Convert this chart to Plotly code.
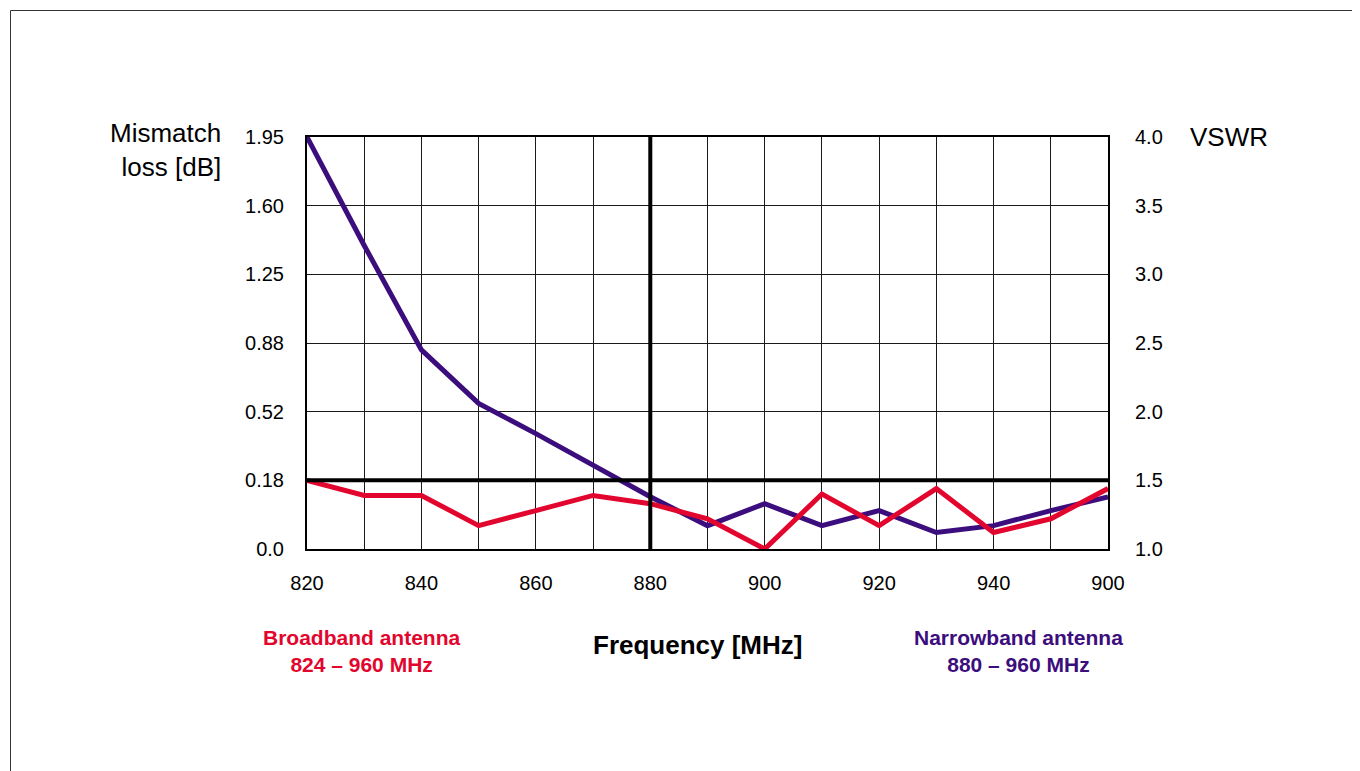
import plotly.graph_objects as go

# ---- data ----
frequency_mhz = [820, 830, 840, 850, 860, 870, 880, 890, 900, 910, 920, 930, 940, 950, 960]
narrowband_vswr = [4.0, 3.21, 2.45, 2.06, 1.84, 1.61, 1.38, 1.17, 1.33, 1.17, 1.28, 1.12, 1.17, 1.28, 1.38]
broadband_vswr = [1.5, 1.39, 1.39, 1.17, 1.28, 1.39, 1.33, 1.22, 1.0, 1.40, 1.17, 1.44, 1.12, 1.22, 1.44]

x_tickvals = [820, 840, 860, 880, 900, 920, 940, 960]
x_ticktext = ["820", "840", "860", "880", "900", "920", "940", "900"]
vswr_ticks = [1.0, 1.5, 2.0, 2.5, 3.0, 3.5, 4.0]
vswr_ticktext = ["1.0", "1.5", "2.0", "2.5", "3.0", "3.5", "4.0"]
loss_ticktext = ["0.0", "0.18", "0.52", "0.88", "1.25", "1.60", "1.95"]

ref_freq = 880
ref_vswr = 1.5

RED = "#E2062E"
PURPLE = "#3C0D7C"
FONT = "Arial, Liberation Sans, sans-serif"

# ---- layout geometry (pixels, page coordinates; page body has 8px margin) ----
OFF = 8
W, H = 1360 - OFF, 771 - OFF
L, R, T, B = 307 - OFF, 1108 - OFF, 137 - OFF, 549 - OFF


def xp(px):
    return (px - OFF - L) / (R - L)


def yp(py):
    return (B - (py - OFF)) / (B - T)


fig = go.Figure()
fig.add_trace(go.Scatter(x=frequency_mhz, y=narrowband_vswr, mode="lines",
                         line=dict(color=PURPLE, width=5), yaxis="y", showlegend=False))
fig.add_trace(go.Scatter(x=frequency_mhz, y=broadband_vswr, mode="lines",
                         line=dict(color=RED, width=5), yaxis="y2", showlegend=False))

grid_color = "#1a1a1a"
fig.update_layout(
    width=W, height=H,
    margin=dict(l=L, r=W - R, t=T, b=H - B, pad=0),
    paper_bgcolor="white", plot_bgcolor="white",
    font=dict(family=FONT, color="black", size=20),
    xaxis=dict(range=[820, 960], tickvals=x_tickvals, ticktext=x_ticktext,
               showgrid=True, gridcolor=grid_color, gridwidth=1,
               minor=dict(dtick=10, tick0=820, showgrid=True, gridcolor=grid_color, gridwidth=1),
               showline=True, linecolor="black", linewidth=2, mirror=True,
               ticks="", ticklabelstandoff=15, zeroline=False,
               tickfont=dict(size=20)),
    yaxis=dict(range=[1.0, 4.0], tickvals=vswr_ticks, ticktext=loss_ticktext,
               showgrid=True, gridcolor=grid_color, gridwidth=1,
               showline=True, linecolor="black", linewidth=2, mirror=True,
               ticks="", ticklabelstandoff=17, zeroline=False,
               tickfont=dict(size=20)),
    yaxis2=dict(range=[1.0, 4.0], overlaying="y", side="right", matches="y",
                tickvals=vswr_ticks, ticktext=vswr_ticktext, showgrid=False,
                ticks="", ticklabelstandoff=26, zeroline=False, showline=False,
                tickfont=dict(size=20)),
)

shapes = [
    dict(type="line", xref="x", yref="paper", x0=ref_freq, x1=ref_freq, y0=0, y1=1,
         line=dict(color="black", width=4)),
    dict(type="line", xref="paper", yref="y", x0=0, x1=1, y0=ref_vswr, y1=ref_vswr,
         line=dict(color="black", width=4)),
    # outer document frame
    dict(type="rect", xref="paper", yref="paper", x0=xp(10.5), x1=xp(1360 + 50),
         y0=yp(771 + 50), y1=yp(10.5), line=dict(color="#333333", width=1),
         fillcolor="rgba(0,0,0,0)", layer="below"),
]
fig.update_layout(shapes=shapes)

ann = []


def add(text, px, py, size, color="black", bold=False, xanchor="center", align="center"):
    t = f"<b>{text}</b>" if bold else text
    ann.append(dict(text=t, x=xp(px), y=yp(py), xref="paper", yref="paper",
                    xanchor=xanchor, yanchor="middle", showarrow=False, align=align,
                    font=dict(family=FONT, size=size, color=color)))


add("Mismatch<br>loss [dB]", 223, 150, 26, xanchor="right", align="right")
add("VSWR", 1188, 137, 26, xanchor="left")
add("Broadband antenna<br>824 – 960 MHz", 362, 651, 21, RED, True)
add("Frequency [MHz]", 697, 645, 26, "black", True)
add("Narrowband antenna<br>880 – 960 MHz", 1018, 651, 21, PURPLE, True)
fig.update_layout(annotations=ann)

fig.write_html("out.html")
